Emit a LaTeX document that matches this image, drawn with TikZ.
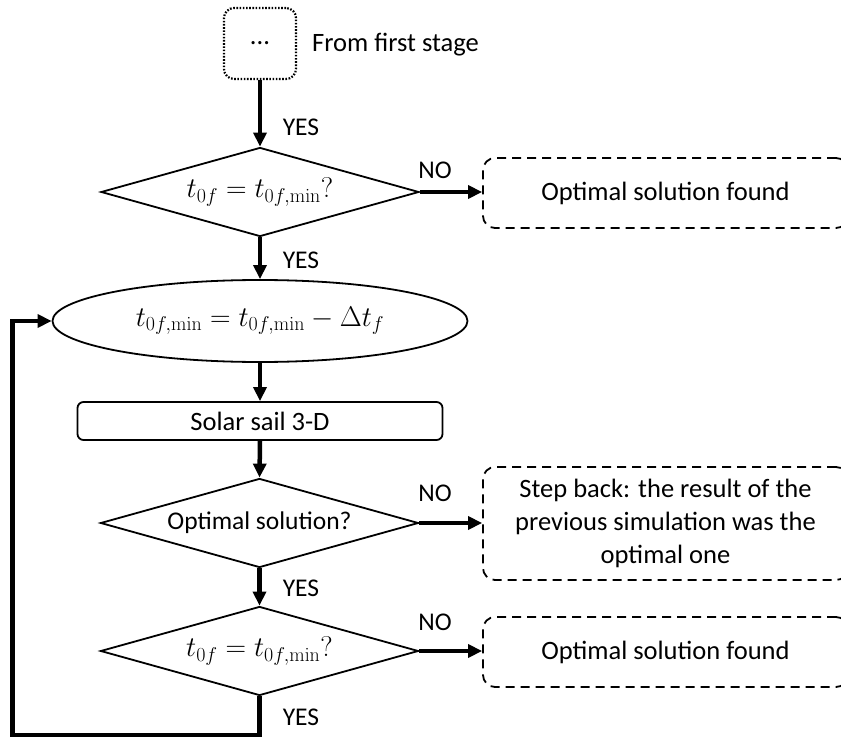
\documentclass[tikz,border=0pt]{standalone}
\usepackage{fix-cm}
\usepackage[no-math]{fontspec}
\setmainfont{Carlito}
\usetikzlibrary{shapes.geometric,arrows.meta}
\begin{document}
\begin{tikzpicture}[x=1pt,y=-1pt,
  every node/.style={font=\fontsize{26.5}{33}\selectfont},
  mathtext/.style={font=\fontsize{28.5}{33}\selectfont},
  flow/.style={line width=4.5pt,line join=miter,-{Triangle[length=14pt,width=13pt]}},
  dec/.style={diamond, draw, line width=1.8pt, minimum width=318pt, minimum height=89pt, inner sep=0pt, shape aspect=3.6},
  lbl/.style={font=\fontsize{25.5}{28}\selectfont, inner sep=0pt},
  dbox/.style={draw, line width=1.8pt, rounded corners=12pt, dash pattern=on 9pt off 6pt, align=center, minimum width=365pt, inner sep=0pt},
  sbox/.style={draw, line width=1.8pt, inner sep=0pt}
]
\useasboundingbox (0,0) rectangle (841,738);
\clip (0,0) rectangle (841,738);

% nodes
\node[sbox, dash pattern=on 1.6pt off 1.6pt, line width=2.2pt, rounded corners=10pt, minimum width=72pt, minimum height=71pt] (start) at (260,43.5) {...};
\node[anchor=west, inner sep=0pt] (from) at (312,45) {From first stage};

\node[dec, mathtext] (d1) at (260,192) {$t_{0f} = t_{0f,\mathrm{min}}?$};
\node[dbox, minimum height=70pt] (o1) at (665.5,193) {Optimal solution found};

\node[sbox, ellipse, mathtext, minimum width=415pt, minimum height=82pt] (e) at (260,321) {$t_{0f,\mathrm{min}} = t_{0f,\mathrm{min}} - \Delta t_f$};

\node[sbox, rounded corners=6pt, minimum width=365pt, minimum height=38pt] (sail) at (260,421) {Solar sail 3-D};

\node[dec, font=\fontsize{25.5}{30}\selectfont] (d2) at (259.5,523) {Optimal solution?};
\node[dbox, minimum height=113pt] (o2) at (665.5,523.5) {Step back: the result of the\\previous simulation was the\\optimal one};

\node[dec, mathtext] (d3) at (259.5,651) {$t_{0f} = t_{0f,\mathrm{min}}?$};
\node[dbox, minimum height=70pt] (o3) at (665.5,652) {Optimal solution found};

% labels
\node[lbl] (y1) at (301,127) {YES};
\node[lbl] (n1) at (435,170) {NO};
\node[lbl] (y2) at (301,260) {YES};
\node[lbl] (n2) at (435,493) {NO};
\node[lbl] (y3) at (301,588) {YES};
\node[lbl] (n3) at (435,622) {NO};
\node[lbl] (y4) at (301,717) {YES};

% connectors
\draw[flow] (start.south) -- (d1.north);
\draw[flow] (d1.east) -- (d1.east -| o1.west);
\draw[flow] (d1.south) -- (e.north);
\draw[flow] (e.south) -- (sail.north);
\draw[flow] (sail.south) -- (d2.north);
\draw[flow] (d2.east) -- (d2.east -| o2.west);
\draw[flow] (d2.south) -- (d3.north);
\draw[flow] (d3.east) -- (d3.east -| o3.west);
\coordinate (c1) at (12.5,735);
\draw[flow] (d3.south) |- (c1) |- (e.west);
\end{tikzpicture}
\end{document}
